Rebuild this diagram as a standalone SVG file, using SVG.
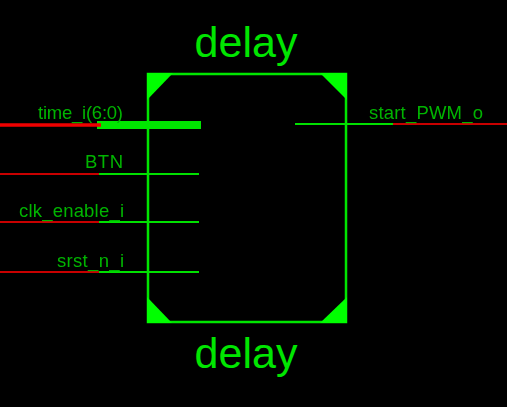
<svg xmlns="http://www.w3.org/2000/svg" width="507" height="407" viewBox="0 0 507 407">
<style>
text{font-family:"Liberation Sans",Arial,sans-serif}
.t{font-size:43px;fill:#00e600;text-anchor:middle}
.l{font-size:18.5px;fill:#00b400;text-anchor:end;filter:url(#soft)}
.g{stroke:#00e000;stroke-width:2;fill:none}
.r{stroke:#c80000;stroke-width:2;fill:none}
.c{fill:#00ff00}
.u{fill:#00b400}
</style>
<defs><filter id="soft" x="-10%" y="-20%" width="120%" height="140%"><feGaussianBlur stdDeviation="0.5"/></filter></defs>
<rect width="507" height="407" fill="#000"/>
<g id="block">
<rect x="148" y="74" width="198" height="248" fill="none" stroke="#00e600" stroke-width="2.5"/>
<path class="c" d="M147 73H173L147 100Z"/>
<path class="c" d="M347 73H320L347 100Z"/>
<path class="c" d="M147 323H172L147 297Z"/>
<path class="c" d="M347 323H320L347 297Z"/>
<text class="t" x="246" y="57">delay</text>
<text class="t" x="246" y="368">delay</text>
</g>
<g id="connectors">
<path d="M97 125H201" stroke="#00e600" stroke-width="8" fill="none"/>
<path d="M0 125H101" stroke="#f00000" stroke-width="3.5" fill="none"/>
<path class="r" d="M0 174H99"/><path class="g" d="M99 174H199"/>
<path class="r" d="M0 222H99"/><path class="g" d="M99 222H199"/>
<path class="r" d="M0 272H99"/><path class="g" d="M99 272H199"/>
<path class="g" d="M295 124H393"/><path class="r" d="M393 124H507"/>
</g>
<g id="port-time_i"><text class="l" x="123" y="119" textLength="85" lengthAdjust="spacing">time_i(6:0)</text></g>
<g id="port-BTN"><text class="l" x="123" y="168" textLength="38" lengthAdjust="spacing">BTN</text></g>
<g id="port-clk_enable_i"><text class="l" x="124" y="217" textLength="105" lengthAdjust="spacing">clk_enable_i</text></g>
<g id="port-srst_n_i"><text class="l" x="124" y="267" textLength="67" lengthAdjust="spacing">srst_n_i</text></g>
<g id="port-start_PWM_o"><text class="l" x="483" y="119" textLength="114" lengthAdjust="spacing">start_PWM_o</text></g>
</svg>
